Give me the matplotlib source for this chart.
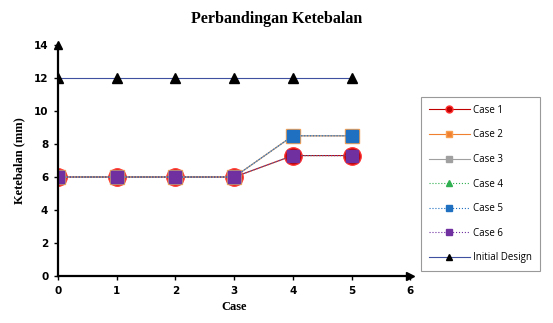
import matplotlib.pyplot as plt

cases = [0, 1, 2, 3, 4, 5]
case1 = [6, 6, 6, 6, 7.3, 7.3]
case2 = [6, 6, 6, 6, 8.5, 8.5]
case3 = [6, 6, 6, 6, 8.5, 8.5]
case4 = [6, 6, 6, 6, 7.3, 7.3]
case5 = [6, 6, 6, 6, 8.5, 8.5]
case6 = [6, 6, 6, 6, 7.3, 7.3]
initial = [12, 12, 12, 12, 12, 12]

fig = plt.figure(figsize=(5.53, 3.23), dpi=100)
ax = fig.add_axes([0.105, 0.1455, 0.637, 0.715])

ax.plot(cases, case1, color='#c00000', lw=0.8, marker='o', ms=12.5,
        mfc='#c00000', mec='#ff3030', label='Case 1')
ax.plot(cases, case2, color='#f08030', lw=0.8, marker='s', ms=10,
        mfc='#f08030', mec='#f8a050', label='Case 2')
ax.plot(cases, case3, color='#a0a0a0', lw=0.8, marker='s', ms=9,
        mfc='#a0a0a0', mec='#a0a0a0', label='Case 3')
ax.plot(cases, case4, color='#30b050', lw=0.8, ls=':', marker='^', ms=7,
        mfc='#30b050', mec='#30b050', label='Case 4')
ax.plot(cases, case5, color='#1f70c0', lw=0.8, ls=':', marker='s', ms=9,
        mfc='#1f70c0', mec='#1f70c0', label='Case 5')
ax.plot(cases, case6, color='#7030a0', lw=0.8, ls=':', marker='s', ms=8.5,
        mfc='#7030a0', mec='#7030a0', label='Case 6')
ax.plot(cases, initial, color='#4050a0', lw=0.8, marker='^', ms=7,
        mfc='black', mec='black', label='Initial Design')

ax.set_xlim(0, 6)
ax.set_ylim(0, 14)
ax.set_xticks(range(0, 7))
ax.set_yticks(range(0, 15, 2))
for s in ['top', 'right']:
    ax.spines[s].set_visible(False)
for s in ['left', 'bottom']:
    ax.spines[s].set_linewidth(1.6)
ax.plot(1, 0, '>', color='black', ms=6, transform=ax.transAxes, clip_on=False)
ax.plot(0, 1, '^', color='black', ms=6, transform=ax.transAxes, clip_on=False)
ax.tick_params(length=3, width=1, direction='out', labelsize=7.5, pad=4)
for lab in ax.get_xticklabels() + ax.get_yticklabels():
    lab.set_fontweight('bold')

ax.set_xlabel('Case', fontfamily='Liberation Serif', fontweight='bold', fontsize=9, labelpad=4)
ax.set_ylabel('Ketebalan (mm)', fontfamily='Liberation Serif', fontweight='bold', fontsize=9, labelpad=6)
fig.text(0.5, 0.94, 'Perbandingan Ketebalan', ha='center', va='center',
         fontfamily='Liberation Serif', fontweight='bold', fontsize=11.5)

leg = ax.legend(loc='upper left', bbox_to_anchor=(1.03, 0.775), borderaxespad=0,
                prop={'family': 'Open Sans', 'size': 7},
                frameon=True, fancybox=False, edgecolor='#808080',
                labelspacing=1.4, handlelength=4.2, borderpad=0.8,
                handletextpad=0.4)
leg.get_frame().set_linewidth(0.8)
for h in leg.legend_handles:
    h.set_markersize(5)

fig.savefig('out.png', dpi=100)
